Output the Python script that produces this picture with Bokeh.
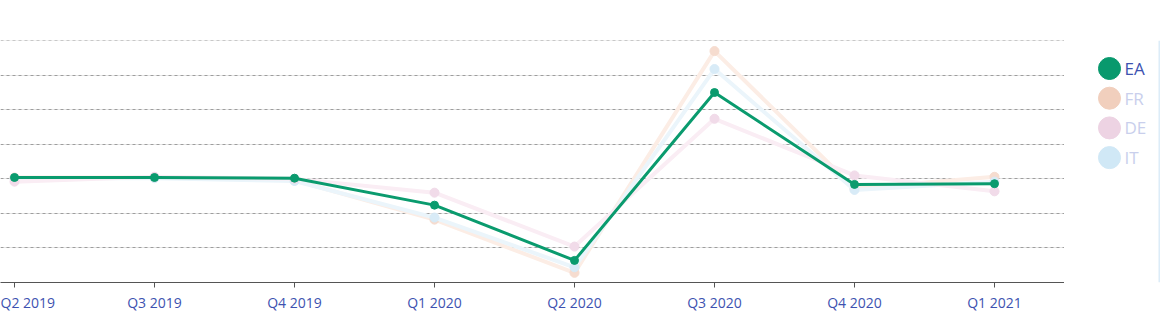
from bokeh.plotting import figure
from bokeh.layouts import row
from bokeh.models import Range1d, FixedTicker, Grid, ColumnDataSource, Span
from bokeh.core.properties import value
from bokeh.embed import file_html
from bokeh.resources import INLINE

quarters = ["Q2 2019", "Q3 2019", "Q4 2019", "Q1 2020", "Q2 2020", "Q3 2020", "Q4 2020", "Q1 2021"]
series_names = ["EA", "FR", "DE", "IT"]
ea = [0.2, 0.2, 0.1, -3.8, -11.8, 12.5, -0.8, -0.7]
fr = [0.2, 0.2, -0.2, -5.9, -13.6, 18.5, -1.4, 0.3]
de = [-0.4, 0.3, 0.0, -2.0, -9.8, 8.7, 0.5, -1.8]
it = [0.1, 0.1, -0.3, -5.6, -12.8, 15.9, -1.6, -0.4]
y_ticks = [-15, -10, -5, 0, 5, 10, 15, 20]

FONT = "Open Sans"
BLUE = "#3d52b0"

idx = list(range(len(quarters)))

p = figure(width=1064, height=316, output_backend="svg", toolbar_location=None,
           x_range=Range1d(-0.1, 7.5), y_range=Range1d(-15, 20.03),
           y_axis_location=None, min_border_left=0, min_border_right=0,
           min_border_top=40, min_border_bottom=34)
p.outline_line_color = None
p.background_fill_color = "white"
p.border_fill_color = "white"
p.xgrid.visible = False

g = Grid(dimension=1, ticker=FixedTicker(ticks=y_ticks),
         grid_line_color="#9e9e9e", grid_line_dash="3 3", grid_line_width=1)
p.add_layout(g)

ax = p.xaxis[0]
ax.ticker = FixedTicker(ticks=idx)
ax.major_label_overrides = {i: q for i, q in enumerate(quarters)}
ax.axis_line_color = "#555555"
ax.major_tick_line_color = "#555555"
ax.major_tick_out = 5
ax.major_tick_in = 0
ax.minor_tick_line_color = None
ax.major_label_text_color = BLUE
ax.major_label_text_font = FONT
ax.major_label_text_font_size = "14px"
ax.major_label_standoff = 5

faded = [
    (fr, "#fcede5", "#f6dccf"),
    (it, "#ebf5fb", "#d8ebf7"),
    (de, "#faedf4", "#f1dbe9"),
]
for vals, lc, mc in faded:
    p.line(idx, vals, line_color=lc, line_width=4)
    p.scatter(idx, vals, size=9, fill_color=mc, line_color=mc)

p.line(idx, ea, line_color="#0a9b6e", line_width=3)
p.scatter(idx, ea, size=8, fill_color="#0a9b6e", line_color="#0a9b6e")

# legend panel (frame aligned with main plot: screen y 40..282)
lg = figure(width=96, height=316, output_backend="svg", toolbar_location=None,
            x_range=Range1d(0, 96), y_range=Range1d(282, 40),
            x_axis_location=None, y_axis_location=None,
            min_border_left=0, min_border_right=0,
            min_border_top=40, min_border_bottom=34)
lg.outline_line_color = None
lg.xgrid.visible = False
lg.ygrid.visible = False
lg.background_fill_color = "white"
lg.border_fill_color = "white"

leg_y = [68 + 29.7 * i for i in range(len(series_names))]
leg_colors = ["#08996d", "#f1cfbd", "#edd3e3", "#d0e8f6"]
leg_text_colors = [BLUE, "#c9cfec", "#c9cfec", "#c9cfec"]
src = ColumnDataSource(dict(x=[45] * 4, y=leg_y, c=leg_colors, tx=[60] * 4,
                            t=series_names, tc=leg_text_colors))
lg.scatter("x", "y", source=src, size=22, fill_color="c", line_color="c")
lg.text("tx", "y", text="t", source=src, text_color="tc", text_font=value(FONT),
        text_font_size="17px", text_baseline="middle", text_align="left")
lg.add_layout(Span(location=95, dimension="height", line_color="#dcecf8", line_width=2))

layout = row(p, lg, spacing=0)
open("out.html", "w").write(file_html(layout, INLINE))
